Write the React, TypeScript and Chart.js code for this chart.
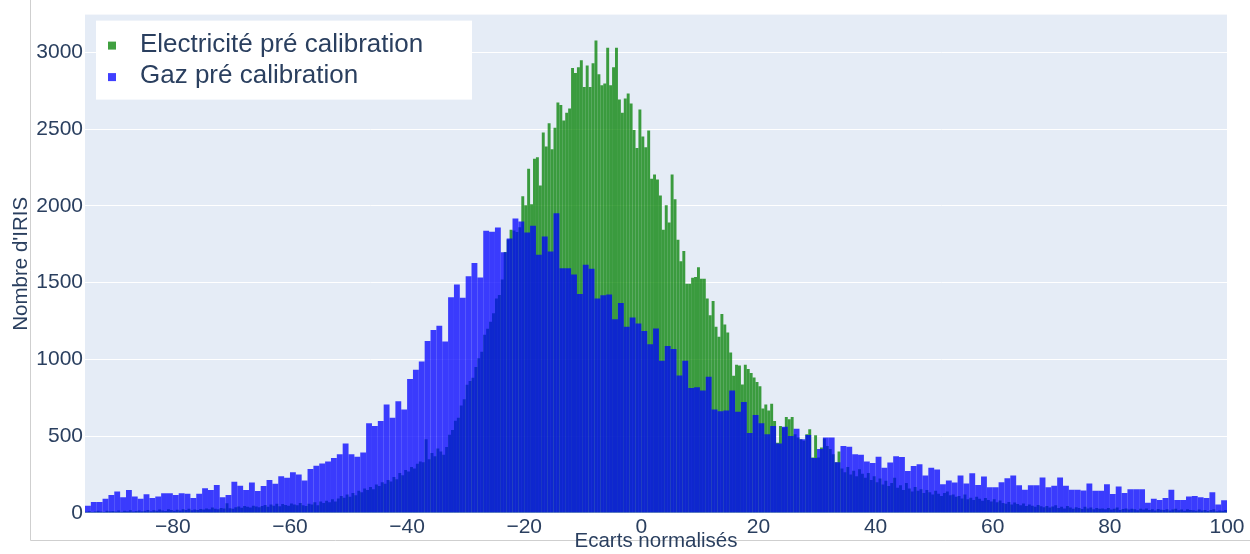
import React, { useEffect, useRef } from 'react';
import { Chart, registerables } from 'chart.js';

Chart.register(...registerables);

// ---- Data -------------------------------------------------------------
const X_MIN = -95;
const X_MAX = 100;
const ELEC_BIN_START = -95;
const ELEC_BIN_WIDTH = 0.5;
const GAZ_BIN_START = -95;
const GAZ_BIN_WIDTH = 1;

const SERIES_LABELS = ['Electricité pré calibration', 'Gaz pré calibration'];
const X_TITLE = 'Ecarts normalisés';
const Y_TITLE = "Nombre d'IRIS";
const X_TICK_STEP = 20;
const Y_MAX = 3245;

// Electricité counts, bins of 0.5 from -95 to 100 (390 bins)
const ELEC_COUNTS = [
  // -95 .. -85.5
  8, 12, 6, 10, 14, 9, 7, 15, 11, 13, 10, 16, 8, 14, 12, 18, 9, 13, 17, 11,
  // -85 .. -75.5
  14, 20, 12, 18, 15, 22, 16, 13, 25, 19, 15, 21, 17, 24, 20, 28, 18, 23, 19, 26,
  // -75 .. -65.5
  22, 30, 24, 36, 27, 25, 33, 29, 64, 31, 28, 38, 43, 34, 45, 40, 35, 48, 42, 38,
  // -65 .. -58.5
  45, 52, 40, 55, 48, 60, 44, 58, 52, 47, 62, 55, 50, 65,
  // -58 .. -21
  50, 45, 60, 55, 70, 50, 75, 65, 80, 70,
  90, 75, 95, 110, 100, 120, 105, 130, 115, 145,
  135, 160, 150, 170, 155, 185, 175, 200, 190, 215,
  205, 235, 220, 260, 245, 280, 270, 300, 290, 320,
  335, 330, 480, 350, 390, 370, 420, 400, 380, 430,
  510, 540, 600, 620, 700, 740, 835, 860, 880, 950,
  1008, 1050, 1160, 1200, 1245, 1300, 1396, 1420, 1520, 1700,
  1780, 1844, 1840, 1830, 1860,
  // -20.5 .. -0.5
  2063, 2003, 2242, 2010, 2307, 2316, 2132, 2477, 2387, 2537,
  2369, 2509, 2673, 2656, 2555, 2606, 2634, 2897, 2865, 2903,
  2947, 2774, 2914, 2774, 2929, 3076, 2856, 2785, 2796, 3029,
  2785, 2903, 3029, 2692, 2606, 2699, 2731, 2667, 2494, 2376, 2627,
  // 0 .. 33.5
  2451, 2382, 2490, 2176, 2204, 2171, 2068, 1844, 2003, 1891,
  2204, 2042, 1779, 1639, 1706, 1493, 1493, 1532, 1536, 1600,
  1525, 1525, 1396, 1288, 1381, 1213, 1148, 1295, 1228, 1176,
  1045, 894, 965, 961, 836, 965, 937, 911, 883, 853,
  825, 681, 707, 668, 711, 599, 457, 566, 556, 625,
  610, 625, 513, 491, 480, 470, 513, 545, 362, 506,
  362, 426, 485, 437, 416, 383, 330, 401,
  // 34 .. 99.5
  290, 265, 300, 250, 275, 240, 285, 255, 230, 260,
  215, 240, 200, 225, 185, 210, 175, 195, 230, 165,
  180, 150, 195, 160, 140, 170, 145, 155, 130, 150,
  135, 120, 145, 125, 110, 130, 140, 115, 120, 105,
  110, 95, 120, 90, 100, 85, 105, 92, 80, 98,
  85, 75, 90, 70, 82, 65, 60, 72, 55, 68,
  58, 50, 62, 45, 55, 48, 40, 52, 44, 38,
  46, 35, 42, 50, 33, 40, 30, 45, 36, 28,
  38, 32, 26, 40, 30, 35, 25, 33, 28, 30,
  24, 32, 22, 28, 35, 20, 26, 30, 22, 27,
  25, 18, 28, 22, 30, 20, 24, 16, 26, 21,
  19, 25, 17, 23, 28, 18, 22, 15, 24, 20,
  18, 14, 22, 16, 20, 13, 19, 25, 12, 17, 15, 20,
];

// Gaz counts, bins of 1 from -95 to 100 (195 bins)
const GAZ_COUNTS = [
  // -95 .. -66
  47, 71, 71, 92, 118, 140, 103, 150, 107, 92,
  122, 97, 107, 129, 129, 118, 129, 125, 97, 125,
  161, 150, 183, 103, 118, 204, 178, 150, 198, 144,
  // -65 .. -59
  175, 215, 190, 240, 230, 265, 250,
  // -58 .. -1
  211, 286, 308, 323, 336, 358, 383, 452, 383, 366,
  394, 584, 566, 599, 706, 620, 728, 674, 872, 933,
  987, 1120, 1191, 1219, 1116, 1404, 1488, 1402, 1542, 1628,
  1534, 1837, 1831, 1859, 1697, 1788, 1917, 1898, 1827, 1870,
  1682, 1801, 1702, 1952, 1594, 1594, 1553, 1426, 1616, 1590,
  1396, 1417, 1422, 1262, 1368, 1213, 1273, 1234,
  // 0 .. 40
  1185, 1099, 1202, 991, 1088, 1068, 896, 991, 814, 819,
  797, 887, 674, 663, 668, 797, 659, 722, 521, 638,
  584, 513, 566, 452, 562, 502, 549, 480, 508, 358,
  416, 491, 491, 330, 437, 431, 383, 379, 336, 325, 366,
  // 41 .. 99
  295, 329, 370, 365, 274, 306, 318, 244, 295, 284,
  188, 212, 199, 244, 192, 259, 182, 237, 167, 167,
  201, 227, 244, 180, 152, 180, 180, 231, 167, 177,
  231, 177, 152, 152, 147, 192, 145, 145, 188, 124,
  173, 130, 154, 154, 154, 66, 92, 85, 98, 152,
  85, 85, 107, 111, 103, 98, 135, 56, 83,
];

// ---- Styles ----------------------------------------------------------
const FONT = "'Liberation Sans', Arial, Helvetica, sans-serif";
const TEXT_COLOR = '#2a3f5f';
const PLOT_BG = '#E5ECF6';
const ELEC_COLOR = 'rgba(0,128,0,0.75)';
const GAZ_COLOR = 'rgba(0,0,255,0.75)';

const toPoints = (counts: number[], start: number, width: number) =>
  counts.map((c, i) => ({ x: start + width * (i + 0.5), y: c }));

const minusFmt = (v: number | string) => {
  const n = Number(v);
  return n < 0 ? '\u2212' + Math.abs(n) : String(n);
};

const backgroundPlugin = {
  id: 'plotBackground',
  beforeDraw(chart: any) {
    const { ctx, chartArea } = chart;
    ctx.save();
    ctx.fillStyle = PLOT_BG;
    ctx.fillRect(chartArea.left, chartArea.top, chartArea.right - chartArea.left, chartArea.bottom - chartArea.top);
    // outer frame lines of the screenshot
    ctx.strokeStyle = '#cfcfcf';
    ctx.lineWidth = 1;
    ctx.beginPath();
    ctx.moveTo(30.5, 0);
    ctx.lineTo(30.5, 540.5);
    ctx.lineTo(chart.width, 540.5);
    ctx.stroke();
    ctx.restore();
  },
};

const legendPlugin = {
  id: 'plotlyLegend',
  afterDraw(chart: any) {
    const { ctx, chartArea } = chart;
    const x0 = chartArea.left + 11;
    const y0 = chartArea.top + 6;
    ctx.save();
    ctx.fillStyle = '#ffffff';
    ctx.fillRect(x0, y0, 376, 79);
    ctx.font = `26px ${FONT}`;
    ctx.textBaseline = 'alphabetic';
    ctx.textAlign = 'left';
    chart.data.datasets.forEach((ds: any, i: number) => {
      const baseline = y0 + 31 + i * 31.5;
      ctx.fillStyle = ds.backgroundColor;
      ctx.fillRect(x0 + 12, baseline - 10, 8, 8);
      ctx.fillStyle = TEXT_COLOR;
      ctx.fillText(ds.label, x0 + 44, baseline);
    });
    ctx.restore();
  },
};

export default function App() {
  const canvasRef = useRef<HTMLCanvasElement | null>(null);

  useEffect(() => {
    if (!canvasRef.current) return;
    const chart = new Chart(canvasRef.current, {
      type: 'bar',
      data: {
        datasets: [
          {
            label: SERIES_LABELS[0],
            data: toPoints(ELEC_COUNTS, ELEC_BIN_START, ELEC_BIN_WIDTH),
            backgroundColor: ELEC_COLOR,
            borderWidth: 0,
            xAxisID: 'x',
            yAxisID: 'y',
            order: 1,
          },
          {
            label: SERIES_LABELS[1],
            data: toPoints(GAZ_COUNTS, GAZ_BIN_START, GAZ_BIN_WIDTH),
            backgroundColor: GAZ_COLOR,
            borderWidth: 0,
            xAxisID: 'x2',
            yAxisID: 'y',
            order: 0,
          },
        ] as any,
      },
      options: {
        animation: false,
        responsive: false,
        devicePixelRatio: 1,
        events: [],
        datasets: {
          bar: {
            barPercentage: 1,
            categoryPercentage: 1,
            grouped: false,
            inflateAmount: 0,
          } as any,
        },
        layout: { padding: { top: 10, right: 23, left: 0, bottom: 0 } },
        plugins: {
          legend: { display: false },
          tooltip: { enabled: false },
        },
        scales: {
          x: {
            type: 'linear',
            min: X_MIN,
            max: X_MAX,
            offset: false,
            grid: { display: false, drawTicks: false, offset: false },
            border: { display: false },
            ticks: {
              stepSize: X_TICK_STEP,
              includeBounds: false,
              maxRotation: 0,
              autoSkip: false,
              padding: 2,
              color: TEXT_COLOR,
              font: { family: FONT, size: 21 },
              callback: (v: any) => minusFmt(v),
            },
            title: {
              display: true,
              text: X_TITLE,
              color: TEXT_COLOR,
              font: { family: FONT, size: 20.5 },
              padding: { top: 0, bottom: 0 },
            },
            afterFit: (scale: any) => {
              scale.height = 41;
            },
          },
          x2: {
            type: 'linear',
            display: false,
            min: X_MIN,
            max: X_MAX,
            offset: false,
            grid: { offset: false },
          },
          y: {
            type: 'linear',
            min: 0,
            max: Y_MAX,
            grid: { color: '#ffffff', lineWidth: 1, drawTicks: false },
            border: { display: false },
            ticks: {
              includeBounds: false,
              padding: 2,
              color: TEXT_COLOR,
              font: { family: FONT, size: 21 },
              callback: (v: any) => String(v),
            },
            title: {
              display: true,
              text: Y_TITLE,
              color: TEXT_COLOR,
              font: { family: FONT, size: 20.5 },
              padding: { top: 9, bottom: 0 },
            },
            afterFit: (scale: any) => {
              scale.width = 85;
            },
          },
        } as any,
      },
      plugins: [backgroundPlugin, legendPlugin],
    });
    return () => chart.destroy();
  }, []);

  return (
    <div style={{ position: 'absolute', left: 0, top: 0, width: 1250, height: 554, background: '#fff' }}>
      <canvas ref={canvasRef} width={1250} height={554} style={{ display: 'block' }} />
    </div>
  );
}
